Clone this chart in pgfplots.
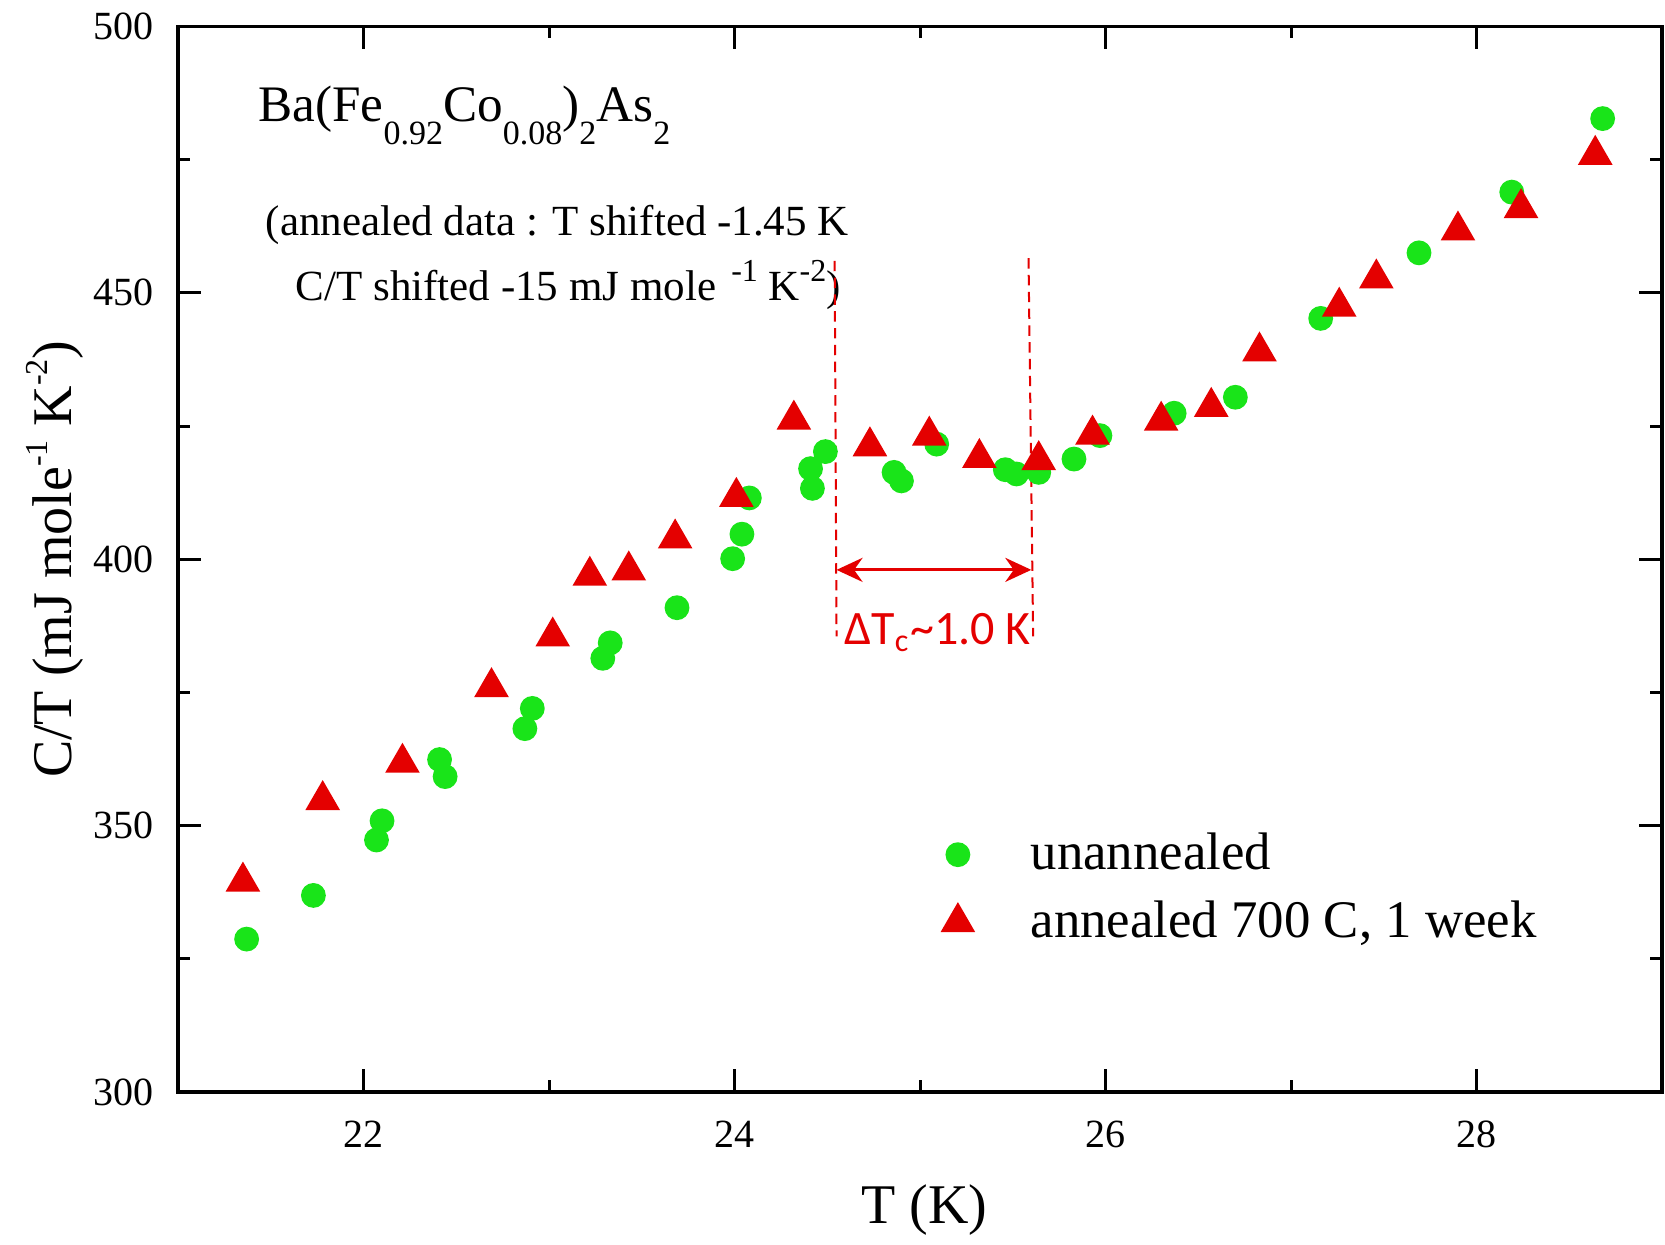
\documentclass[border=0pt]{standalone}
\usepackage{pgfplots}
\pgfplotsset{compat=1.18}
\usepackage{fontspec}
\setmainfont{Liberation Serif}
\newfontfamily\calib{Carlito}
\usetikzlibrary{arrows.meta}
\definecolor{ptgreen}{RGB}{25,228,25}
\definecolor{ptred}{RGB}{228,0,0}
\newcommand\chsub[1]{\raisebox{-0.95ex}{\fontsize{8.5}{8.5}\selectfont #1}}
\newcommand\chsup[1]{\raisebox{0.95ex}{\fontsize{8}{8}\selectfont #1}}

\begin{document}
\begin{tikzpicture}
\begin{axis}[
  name=ax,
  scale only axis,
  width=371pt, height=266.4pt,
  xmin=21, xmax=29,
  ymin=300, ymax=500,
  xtick={22,24,26,28},
  ytick={300,350,400,450,500},
  minor x tick num=1,
  minor y tick num=1,
  tick align=inside,
  major tick length=5.75pt,
  minor tick length=3pt,
  tick style={black, line width=0.75pt},
  axis line style={line width=0.9pt},
  /pgf/number format/assume math mode=true,
  tick label style={font=\fontsize{10}{10}\selectfont},
  xticklabel style={yshift=-3.8pt},
  yticklabel style={xshift=-2.7pt},
  xlabel={T (K)},
  ylabel={C/T (mJ mole\chsup{-1} K\chsup{-2})},
  label style={font=\fontsize{14}{14}\selectfont},
  xlabel style={at={(axis description cs:0.503,-0.111)}, anchor=center},
  ylabel style={at={(axis description cs:-0.083,0.5)}, anchor=center},
  legend style={at={(axis cs:24.98,350.2)}, anchor=north west, draw=none, fill=none,
    font=\fontsize{13.2}{16.75}\selectfont, row sep=2.2pt, inner sep=0pt,
    cells={anchor=west}},
  legend image code/.code={
    \path (0pt,0pt) (26pt,0pt);
    \draw[mark repeat=2,mark phase=2,#1] plot coordinates {(0pt,0pt) (10pt,0pt) (26pt,0pt)};},
]

% unannealed
\addplot[only marks, mark=*, mark size=2.9pt, color=ptgreen] coordinates {
  (21.37,328.7) (21.73,336.9) (22.07,347.3) (22.10,350.9) (22.41,362.4)
  (22.44,359.2) (22.87,368.2) (22.91,372.0) (23.29,381.4) (23.33,384.3)
  (23.69,390.9) (23.99,400.1) (24.04,404.7) (24.08,411.5) (24.41,417.0)
  (24.42,413.3) (24.49,420.2) (24.86,416.3) (24.90,414.7) (25.09,421.6)
  (25.46,416.8) (25.52,416.0) (25.64,416.3) (25.83,418.8) (25.97,423.2)
  (26.37,427.4) (26.70,430.4) (27.16,445.2) (27.69,457.5) (28.19,468.9)
  (28.68,482.7)
};
\addlegendentry{unannealed}

% annealed
\addplot[only marks, mark=triangle*, mark size=4.6pt, color=ptred] coordinates {
  (21.35,339.5) (21.78,354.8) (22.21,361.8) (22.69,376.0) (23.02,385.5)
  (23.22,396.9) (23.43,397.9) (23.68,403.9) (24.01,411.7) (24.32,426.2)
  (24.73,421.2) (25.05,423.2) (25.32,419.0) (25.64,418.6) (25.93,423.4)
  (26.30,426.0) (26.57,428.6) (26.83,439.0) (27.26,447.4) (27.46,452.7)
  (27.90,461.7) (28.24,465.9) (28.64,475.9)
};
\addlegendentry{annealed 700 C, 1 week}

\node[anchor=base west, inner sep=0pt, font=\fontsize{12.8}{12.8}\selectfont] at (axis cs:21.43,482.1)
  {Ba(Fe\chsub{0.92}Co\chsub{0.08})\chsub{2}As\chsub{2}};
\node[anchor=base west, inner sep=0pt, font=\fontsize{10.75}{10.75}\selectfont] at (axis cs:21.47,460.75)
  {(annealed data : T shifted -1.45 K};
\node[anchor=base west, inner sep=0pt, font=\fontsize{10.75}{10.75}\selectfont] at (axis cs:21.63,448.6)
  {C/T shifted -15 mJ mole\hspace{3.8pt}\chsup{-1} K\chsup{-2})};

\draw[ptred, dash pattern=on 2.6pt off 1.6pt, line width=0.5pt]
  (axis cs:24.54,456) -- (axis cs:24.55,385.5);
\draw[ptred, dash pattern=on 2.6pt off 1.6pt, line width=0.5pt]
  (axis cs:25.585,456.5) -- (axis cs:25.61,385.5);
\draw[ptred, line width=0.75pt, {Stealth[length=6.5pt,width=6pt]}-{Stealth[length=6.5pt,width=6pt]}]
  (axis cs:24.55,398) -- (axis cs:25.60,398);
\node[ptred, font=\calib\fontsize{12}{12}\selectfont, anchor=center] at (axis cs:25.095,386.2)
  {ΔT\textsubscript{c}\textasciitilde 1.0 K};

\end{axis}
\pgfresetboundingbox
\path ([shift={(-44.5pt,-38pt)}]ax.south west) rectangle ([shift={(0.75pt,6.6pt)}]ax.north east);
\end{tikzpicture}
\end{document}
